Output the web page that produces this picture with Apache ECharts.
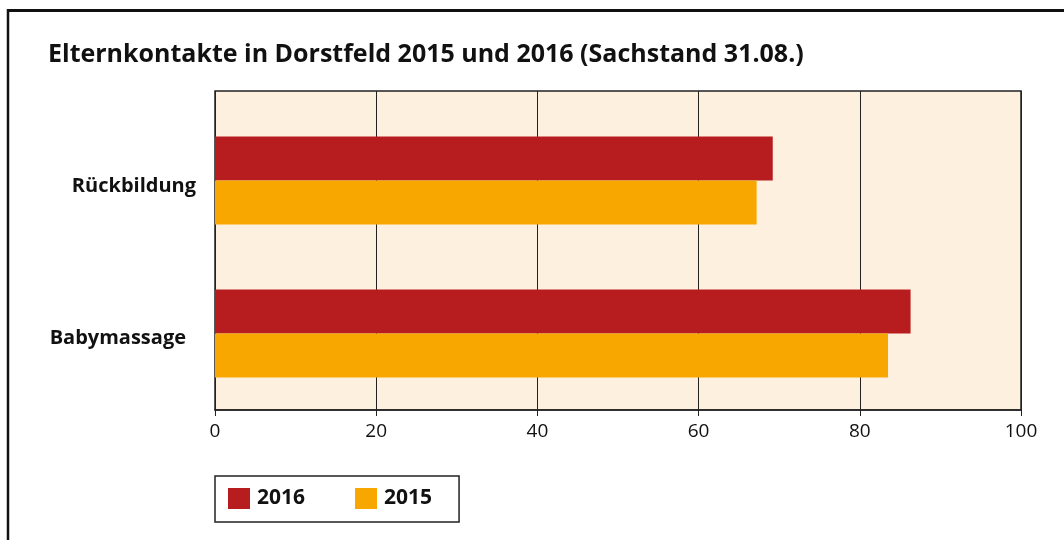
<!DOCTYPE html>
<html>
<head>
<meta charset="utf-8">
<script src="https://cdn.jsdelivr.net/npm/echarts@6/dist/echarts.min.js"></script>
<style>
  html, body { margin: 0; padding: 0; background: #fff; }
  #chart { width: 1064px; height: 540px; }
</style>
</head>
<body>
<div id="chart"></div>
<script>
"use strict";

// Kategorien (von oben nach unten)
let categories = ['Rückbildung', 'Babymassage'];
// Elternkontakte je Jahr
let values2016 = [69.2, 86.3];
let values2015 = [67.2, 83.5];
// x-Achse
let axisTicks = [0, 20, 40, 60, 80, 100];

let font = 'Open Sans';
let myChart = echarts.init(document.getElementById('chart'));

let labelStyle = {
  fontSize: 20,
  fontWeight: 'bold',
  color: '#111',
  fontFamily: font,
};

let option = {
  backgroundColor: '#fff',
  textStyle: { fontFamily: font },
  title: {
    text: 'Elternkontakte in Dorstfeld 2015 und 2016 (Sachstand 31.08.)',
    left: 43,
    top: 37,
    textStyle: { fontSize: 25, fontWeight: 'bold', color: '#111', fontFamily: font },
  },
  graphic: [ // Rahmen oben und links
    { type: 'line', shape: { x1: 8, y1: 10.5, x2: 1064, y2: 10.5 }, style: { stroke: '#111', lineWidth: 3 } },
    { type: 'line', shape: { x1: 8, y1: 9, x2: 8, y2: 540 }, style: { stroke: '#111', lineWidth: 2.5 } },
  ],
  legend: {
    left: 215,
    top: 476,
    orient: 'horizontal',
    data: ['2016', '2015'],
    icon: 'rect',
    itemWidth: 22,
    itemHeight: 21,
    itemGap: 50,
    padding: [12, 27, 13, 13],
    borderColor: '#222',
    borderWidth: 1.5,
    backgroundColor: '#fff',
    textStyle: { fontSize: 21, fontWeight: 'bold', color: '#111', fontFamily: font, padding: [0, 0, 0, 2] },
  },
  grid: [
    { // Hintergrund mit Gitterlinien
      left: 215, right: 43, top: 91, bottom: 130,
      show: true,
      backgroundColor: '#fef0de',
      borderColor: '#222',
      borderWidth: 1.5,
    },
    { // Balken
      left: 215, right: 43, top: 104, bottom: 130,
    },
  ],
  xAxis: [
    {
      gridIndex: 0,
      type: 'value',
      min: 0,
      max: 100,
      interval: 20,
      axisLine: { show: true, lineStyle: { color: '#222', width: 1.5 } },
      axisTick: { show: true, length: 6, lineStyle: { color: '#222' } },
      axisLabel: {
        margin: 12,
        fontSize: 19,
        color: '#111',
        fontFamily: font,
        formatter: function (v) { return axisTicks.indexOf(v) >= 0 ? String(v) : ''; },
      },
      splitLine: { show: true, lineStyle: { color: '#222', width: 1 } },
    },
    {
      gridIndex: 1,
      type: 'value',
      min: 0,
      max: 100,
      show: false,
    },
  ],
  yAxis: [
    { gridIndex: 0, type: 'value', show: false },
    {
      gridIndex: 1,
      type: 'category',
      inverse: true,
      data: categories,
      axisLine: { show: false },
      axisTick: { show: false },
      axisLabel: {
        margin: 19,
        formatter: function (v, i) { return '{c' + i + '|' + v + '}'; },
        rich: {
          c0: Object.assign({ padding: [12, 0, 0, 0] }, labelStyle),
          c1: Object.assign({ padding: [10, 10, 0, 0] }, labelStyle),
        },
      },
    },
  ],
  series: [
    {
      name: '2016',
      type: 'bar',
      xAxisIndex: 1,
      yAxisIndex: 1,
      data: values2016,
      barWidth: 44,
      barGap: '0%',
      itemStyle: { color: '#b71c1e' },
    },
    {
      name: '2015',
      type: 'bar',
      xAxisIndex: 1,
      yAxisIndex: 1,
      data: values2015,
      barWidth: 44,
      barGap: '0%',
      itemStyle: { color: '#f7a700' },
    },
  ],
};

myChart.setOption(option);
</script>
</body>
</html>
